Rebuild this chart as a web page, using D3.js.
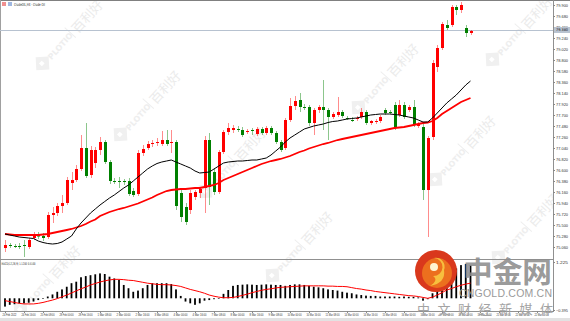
<!DOCTYPE html>
<html>
<head>
<meta charset="utf-8">
<script src="https://cdn.jsdelivr.net/npm/d3@7"></script>
<style>
body { margin: 0; background: #fff; }
svg { display: block; font-family: "DejaVu Sans", sans-serif; }
</style>
</head>
<body>
<svg id="chart" width="570" height="321"></svg>
<script>
// H4 candles
var openP  = [75.04,75.10,75.08,75.08,75.10,75.06,75.24,75.30,75.28,75.26,75.70,75.74,75.88,75.94,76.34,76.40,76.62,77.04,76.50,76.74,
              77.00,77.16,76.76,76.38,76.38,76.38,76.38,76.18,76.12,76.94,77.04,77.12,77.14,77.12,77.20,77.14,77.16,76.14,75.86,75.80,
              76.06,76.14,76.24,77.20,76.56,76.16,76.96,77.36,77.40,77.42,77.40,77.36,77.40,77.32,77.42,77.34,77.44,77.34,77.16,77.04,
              77.60,77.88,78.00,77.86,77.86,77.54,77.80,77.86,77.80,77.66,77.70,77.76,77.64,77.60,77.63,77.66,77.76,77.54,77.56,77.58,
              77.80,77.76,77.90,77.70,77.90,77.80,77.86,77.48,77.46,76.20,77.26,78.66,79.04,79.50,79.50,79.86,79.80,79.44,79.34];
var highP  = [75.20,75.14,75.12,75.14,75.20,75.24,75.36,75.36,75.34,75.76,75.86,75.94,76.10,76.46,76.56,76.70,77.30,77.54,77.08,77.06,
              77.26,77.20,76.80,76.44,76.46,76.42,76.44,76.24,77.00,77.10,77.18,77.20,77.24,77.38,77.40,77.40,77.20,76.20,75.94,76.20,
              76.20,76.24,77.28,77.34,76.64,77.00,77.40,77.54,77.50,77.48,77.46,77.42,77.44,77.46,77.46,77.48,77.48,77.38,77.20,77.64,
              78.04,78.08,78.14,77.92,77.90,77.84,77.90,78.40,77.84,77.76,78.06,77.80,77.68,77.66,77.68,77.84,77.80,77.60,77.62,77.70,
              77.84,77.80,77.96,78.00,77.96,77.90,78.00,77.56,77.52,77.28,78.80,79.10,79.56,79.60,79.90,79.90,79.96,79.50,79.40];
var lowP   = [74.96,75.04,75.04,75.02,74.86,75.02,75.20,75.22,75.18,75.22,75.54,75.68,75.74,75.90,76.20,76.36,76.58,76.44,76.44,76.64,
              76.90,76.72,76.32,76.32,76.24,76.30,76.08,76.06,76.08,76.88,77.00,77.06,77.08,77.08,77.08,76.94,75.80,75.56,75.50,75.72,
              76.00,76.04,75.74,75.90,76.10,76.12,76.92,77.30,77.34,77.36,77.26,77.32,77.30,77.28,77.30,77.30,77.30,77.12,76.96,77.00,
              77.56,77.80,77.76,77.80,77.48,77.30,77.74,77.40,77.20,77.62,77.66,77.64,77.60,77.56,77.58,77.62,77.50,77.50,77.52,77.54,
              77.70,77.72,77.40,77.66,77.62,77.76,77.46,77.44,76.00,75.26,77.20,78.56,79.00,79.40,79.46,79.70,79.74,79.26,79.30];
var closeP = [75.10,75.08,75.07,75.07,75.08,75.20,75.30,75.27,75.24,75.70,75.74,75.88,75.94,76.40,76.40,76.62,77.04,76.48,77.00,77.00,
              77.16,76.76,76.38,76.37,76.37,76.37,76.12,76.10,76.94,77.02,77.12,77.14,77.16,77.20,77.12,77.16,75.88,75.66,75.56,76.14,
              76.16,76.22,77.20,76.26,76.16,76.96,77.36,77.44,77.44,77.41,77.30,77.38,77.39,77.42,77.34,77.44,77.34,77.16,77.00,77.60,
              77.88,77.98,77.86,77.85,77.54,77.80,77.86,77.80,77.66,77.72,77.76,77.68,77.63,77.59,77.64,77.76,77.54,77.58,77.58,77.66,
              77.74,77.75,77.44,77.90,77.66,77.86,77.50,77.52,76.20,77.24,78.74,79.04,79.52,79.44,79.86,79.80,79.90,79.34,79.38];

// moving averages (black = fast, red = slow)
var maFast = [75.32,75.30,75.28,75.26,75.25,75.24,75.23,75.18,75.15,75.13,75.12,75.13,75.16,75.22,75.28,75.42,75.54,75.64,75.74,75.82,
              75.90,75.97,76.04,76.10,76.17,76.24,76.30,76.38,76.46,76.54,76.62,76.68,76.73,76.76,76.78,76.80,76.76,76.72,76.68,76.64,
              76.58,76.54,76.55,76.56,76.62,76.68,76.74,76.76,76.77,76.78,76.78,76.79,76.80,76.80,76.82,76.84,76.90,76.98,77.06,77.16,
              77.24,77.30,77.36,77.42,77.45,77.48,77.50,77.52,77.55,77.57,77.58,77.60,77.62,77.63,77.64,77.66,77.68,77.70,77.71,77.72,
              77.72,77.72,77.71,77.70,77.68,77.66,77.64,77.60,77.56,77.56,77.64,77.74,77.84,77.94,78.02,78.10,78.20,78.30,78.38];
var maSlow = [75.32,75.31,75.30,75.30,75.30,75.30,75.30,75.30,75.31,75.32,75.34,75.36,75.38,75.40,75.42,75.45,75.48,75.52,75.57,75.61,
              75.68,75.72,75.76,75.79,75.82,75.84,75.87,75.90,75.93,75.97,76.01,76.05,76.10,76.14,76.18,76.20,76.21,76.22,76.22,76.23,
              76.24,76.24,76.26,76.28,76.30,76.34,76.40,76.44,76.48,76.52,76.56,76.60,76.64,76.68,76.72,76.75,76.78,76.80,76.82,76.85,
              76.88,76.92,76.96,76.99,77.03,77.06,77.09,77.12,77.14,77.17,77.20,77.22,77.24,77.26,77.28,77.30,77.32,77.34,77.36,77.38,
              77.40,77.42,77.44,77.45,77.46,77.48,77.50,77.52,77.54,77.55,77.58,77.64,77.72,77.78,77.84,77.90,77.96,78.00,78.04];

// MACD(12,26,9)
var macdHist = [-0.28,-0.22,-0.20,-0.17,-0.17,-0.15,-0.11,-0.06,-0.02,0.06,0.13,0.22,0.30,0.39,0.51,0.56,0.71,0.75,0.78,0.81,
                0.84,0.82,0.73,0.67,0.62,0.45,0.34,0.22,0.26,0.34,0.45,0.51,0.51,0.51,0.51,0.48,0.30,0.08,-0.11,-0.17,
                -0.22,-0.17,-0.08,-0.06,-0.03,0.01,0.15,0.28,0.42,0.45,0.46,0.47,0.46,0.45,0.46,0.47,0.46,0.45,0.45,0.42,
                0.45,0.47,0.47,0.45,0.42,0.39,0.37,0.34,0.30,0.28,0.26,0.22,0.19,0.17,0.13,0.11,0.09,0.08,0.08,0.06,
                0.06,0.06,0.06,0.05,0.06,0.05,0.05,0.03,-0.08,-0.03,0.17,0.34,0.56,0.73,0.90,1.01,1.12,1.16,1.12];
var macdSignal = [-0.08,-0.11,-0.14,-0.17,-0.19,-0.19,-0.19,-0.17,-0.14,-0.10,-0.06,-0.01,0.05,0.11,0.18,0.25,0.32,0.38,0.45,0.50,
                  0.55,0.59,0.62,0.64,0.64,0.63,0.61,0.60,0.57,0.54,0.51,0.49,0.47,0.46,0.46,0.45,0.43,0.40,0.35,0.30,
                  0.26,0.22,0.17,0.11,0.07,0.04,0.02,0.02,0.03,0.06,0.10,0.14,0.19,0.23,0.27,0.30,0.32,0.35,0.37,0.38,
                  0.39,0.40,0.41,0.42,0.42,0.42,0.42,0.42,0.41,0.41,0.40,0.40,0.39,0.36,0.33,0.31,0.28,0.26,0.23,0.21,
                  0.19,0.17,0.15,0.13,0.11,0.09,0.08,0.06,0.03,0.00,0.04,0.11,0.19,0.28,0.33,0.39,0.44,0.48,0.51];

var priceTicks = [79.90,79.68,79.46,79.24,79.02,78.80,78.58,78.36,78.14,77.92,77.70,77.48,77.26,77.04,76.82,76.60,76.38,76.16,75.94,75.72,75.50,75.28,75.06];
var macdTicks = [1.225, -0.395];
var timeLabels = ["24 Feb 2022","24 Feb 16:00","25 Feb 08:00","28 Feb 00:00","28 Feb 16:00","1 Mar 08:00","2 Mar 00:00","2 Mar 16:00",
                  "3 Mar 08:00","4 Mar 00:00","4 Mar 16:00","7 Mar 08:00","8 Mar 00:00","8 Mar 16:00","9 Mar 08:00","10 Mar 00:00",
                  "10 Mar 16:00","11 Mar 08:00","14 Mar 00:00","14 Mar 16:00","15 Mar 08:00","16 Mar 00:00","16 Mar 16:00","17 Mar 08:00",
                  "18 Mar 00:00","18 Mar 16:00","21 Mar 08:00","22 Mar 00:00","22 Mar 16:00"];

var upColor = "#ff0000", downColor = "#008000";
var axisX = 553, mainBottom = 259, subTop = 260, subBottom = 311;

var svg = d3.select("#chart");

var x = d3.scaleLinear().domain([-1, 115]).range([0.25, 551.25]);
var y = d3.scaleLinear().domain([75.04, 79.90]).range([248, 5]);
var yM = d3.scaleLinear().domain([-0.395, 1.225]).range([310, 262]);

var defs = svg.append("defs");
defs.append("clipPath").attr("id", "clipMain").append("rect")
    .attr("x", 0).attr("y", 1).attr("width", axisX).attr("height", mainBottom - 1);
defs.append("clipPath").attr("id", "clipSub").append("rect")
    .attr("x", 0).attr("y", subTop).attr("width", axisX).attr("height", subBottom - subTop);
defs.append("clipPath").attr("id", "clipAll").append("rect")
    .attr("x", 1).attr("y", 1).attr("width", axisX - 1).attr("height", subBottom - 1);

// faint broker watermarks
var wmSpots = [[62,44],[140,115],[225,172],[378,88],[292,256],[512,40],[455,160],[518,238],[40,290]];
var wm = svg.append("g").attr("class", "watermarks").attr("clip-path", "url(#clipAll)");
wmSpots.forEach(function (p) {
    var g = wm.append("g").attr("transform", "translate(" + p[0] + "," + p[1] + ") rotate(-48)");
    g.append("rect").attr("x", -34).attr("y", -8).attr("width", 13).attr("height", 13)
        .attr("transform", "rotate(45,-27.5,-1.5)").attr("fill", "#f0f0f0");
    g.append("rect").attr("x", -30).attr("y", -4).attr("width", 4).attr("height", 4).attr("fill", "#fff");
    g.append("text").attr("x", -19).attr("y", 3).attr("font-size", 8).attr("font-weight", "bold")
        .attr("fill", "#eeeeee").text("PLOTIO");
    g.append("line").attr("x1", 14).attr("x2", 14).attr("y1", -9).attr("y2", 6)
        .attr("stroke", "#eeeeee").attr("stroke-width", 1);
    g.append("text").attr("x", 18).attr("y", 5).attr("font-size", 13)
        .attr("font-family", "Noto Sans CJK SC").attr("fill", "#ebebeb").text("百利好");
});

// frame
svg.append("line").attr("x1", 0).attr("x2", 570).attr("y1", 0.5).attr("y2", 0.5).attr("stroke", "#808080");
svg.append("line").attr("x1", 0.5).attr("x2", 0.5).attr("y1", 0).attr("y2", subBottom).attr("stroke", "#a0a0a0");
svg.append("line").attr("x1", 0).attr("x2", axisX).attr("y1", mainBottom + 0.5).attr("y2", mainBottom + 0.5).attr("stroke", "#909090");
svg.append("line").attr("x1", axisX + 0.5).attr("x2", axisX + 0.5).attr("y1", 0).attr("y2", subBottom).attr("stroke", "#909090");
svg.append("line").attr("x1", 0).attr("x2", axisX + 1).attr("y1", subBottom + 0.5).attr("y2", subBottom + 0.5).attr("stroke", "#909090");
svg.append("rect").attr("x", 0).attr("y", 318).attr("width", 570).attr("height", 3).attr("fill", "#e2e2e2");

var main = svg.append("g").attr("clip-path", "url(#clipMain)");
var idx = d3.range(openP.length);
var lastClose = closeP[closeP.length - 1];

// current price line
main.append("line").attr("x1", 0).attr("x2", axisX).attr("y1", Math.round(y(lastClose)) - 0.5).attr("y2", Math.round(y(lastClose)) - 0.5)
    .attr("stroke", "#b7c2d0").attr("stroke-width", 1);

function colorOf(i) { return closeP[i] >= openP[i] ? upColor : downColor; }

main.selectAll(".wick").data(idx).join("line")
    .attr("class", "wick")
    .attr("x1", function (i) { return Math.round(x(i)) + 0.5; })
    .attr("x2", function (i) { return Math.round(x(i)) + 0.5; })
    .attr("y1", function (i) { return y(highP[i]); })
    .attr("y2", function (i) { return y(lowP[i]); })
    .attr("stroke", colorOf)
    .attr("stroke-opacity", 0.45);

main.selectAll(".body").data(idx).join("rect")
    .attr("class", "body")
    .attr("x", function (i) { return Math.round(x(i)) - 1; })
    .attr("width", 3)
    .attr("y", function (i) { return y(Math.max(openP[i], closeP[i])); })
    .attr("height", function (i) { return Math.max(1, Math.abs(y(openP[i]) - y(closeP[i]))); })
    .attr("fill", colorOf);

var maLine = d3.line().x(function (d, i) { return x(i); }).y(function (d) { return y(d); });
main.append("path").datum(maSlow).attr("d", maLine).attr("fill", "none").attr("stroke", "#ff0000").attr("stroke-width", 1.8);
main.append("path").datum(maFast).attr("d", maLine).attr("fill", "none").attr("stroke", "#000").attr("stroke-width", 1);

// MACD window
var sub = svg.append("g").attr("clip-path", "url(#clipSub)");
sub.selectAll(".hist").data(macdHist).join("rect")
    .attr("class", "hist")
    .attr("x", function (d, i) { return x(i) - 0.9; })
    .attr("width", 1.8)
    .attr("y", function (d) { return yM(Math.max(0, d)); })
    .attr("height", function (d) { return Math.max(0.6, Math.abs(yM(d) - yM(0))); })
    .attr("fill", "#000");
var sigLine = d3.line().x(function (d, i) { return x(i); }).y(function (d) { return yM(d); });
sub.append("path").datum(macdSignal).attr("d", sigLine).attr("fill", "none").attr("stroke", "#ff0000").attr("stroke-width", 1);

// labels
svg.append("rect").attr("x", 2).attr("y", 2).attr("width", 4).attr("height", 4).attr("fill", "#f09090");
svg.append("rect").attr("x", 8).attr("y", 2).attr("width", 4).attr("height", 4).attr("fill", "#9fb7e0");
svg.append("text").attr("x", 14).attr("y", 5.6).attr("font-size", 4).attr("fill", "#222")
    .attr("textLength", 31).attr("lengthAdjust", "spacingAndGlyphs").text("CrudeOIL,H4 - Crude Oil");
svg.append("text").attr("x", 1.5).attr("y", 265).attr("font-size", 3.6).attr("fill", "#222")
    .attr("textLength", 34).attr("lengthAdjust", "spacingAndGlyphs")
    .text("MACD(12,26,9) " + macdHist[macdHist.length - 1].toFixed(4) + " " + macdSignal[macdSignal.length - 1].toFixed(4));

var yAxis = d3.axisRight(y).tickValues(priceTicks).tickSize(2).tickFormat(d3.format(".3f"));
var gy = svg.append("g").attr("transform", "translate(" + axisX + ",0)").call(yAxis);
var yMAxis = d3.axisRight(yM).tickValues(macdTicks).tickSize(2).tickFormat(d3.format(".3f"));
var gym = svg.append("g").attr("transform", "translate(" + axisX + ",0)").call(yMAxis);
[gy, gym].forEach(function (g) {
    g.select(".domain").remove();
    g.selectAll(".tick line").attr("stroke", "#888");
    g.selectAll(".tick text").attr("x", 3).attr("font-size", 3.8).attr("fill", "#333")
        .attr("textLength", 12).attr("lengthAdjust", "spacingAndGlyphs");
});

// current price tag
var tagY = Math.round(y(lastClose)) - 1;
svg.append("rect").attr("x", axisX + 1).attr("y", tagY - 3).attr("width", 16).attr("height", 6).attr("fill", "#b9c3d0");
svg.append("text").attr("x", axisX + 3).attr("y", tagY + 1.4).attr("font-size", 3.8).attr("fill", "#111")
    .attr("textLength", 12).attr("lengthAdjust", "spacingAndGlyphs").text(lastClose.toFixed(3));

var xAxis = d3.axisBottom(x).tickValues(d3.range(0, 113, 4)).tickSize(2)
    .tickFormat(function (d, k) { return timeLabels[k]; });
var gx = svg.append("g").attr("transform", "translate(0," + subBottom + ")").call(xAxis);
gx.select(".domain").remove();
gx.selectAll(".tick line").attr("stroke", "#888");
gx.selectAll(".tick text").attr("y", 2.5).attr("dy", "0.71em").attr("x", -3)
    .attr("text-anchor", "start").attr("font-size", 3.4).attr("fill", "#333")
    .attr("textLength", 14).attr("lengthAdjust", "spacingAndGlyphs");

// media logo (bottom right)
var logo = svg.append("g");
logo.append("circle").attr("cx", 436).attr("cy", 271).attr("r", 21).attr("fill", "#d9381c");
logo.append("circle").attr("cx", 437).attr("cy", 273).attr("r", 15).attr("fill", "#ec6f1e");
logo.append("path")
    .attr("d", "M434,258 a9,9 0 1 1 -1,18 q6,4 -3,10 q16,-3 14,-16 a9,9 0 0 0 -10,-12 z")
    .attr("fill", "#f7bf3e");
logo.append("circle").attr("cx", 434).attr("cy", 267).attr("r", 4).attr("fill", "#fff4d0");
logo.append("text").attr("x", 463).attr("y", 283).attr("font-size", 29).attr("font-weight", "bold")
    .attr("font-family", "Noto Sans CJK SC").attr("fill", "#8d8d8d").attr("fill-opacity", 0.9)
    .attr("textLength", 89).attr("lengthAdjust", "spacingAndGlyphs").text("中金网");
logo.append("text").attr("x", 459).attr("y", 296.5).attr("font-size", 10.5)
    .attr("font-family", "Liberation Sans").attr("fill", "#9a9a9a")
    .attr("textLength", 93).attr("lengthAdjust", "spacing").text("CNGOLD.COM.CN");
logo.append("text").attr("x", 417).attr("y", 314).attr("font-size", 13)
    .attr("font-family", "Noto Sans CJK SC").attr("fill", "#a3a3a3")
    .attr("textLength", 136).attr("lengthAdjust", "spacing").text("中文财经新媒体");
</script>
</body>
</html>
